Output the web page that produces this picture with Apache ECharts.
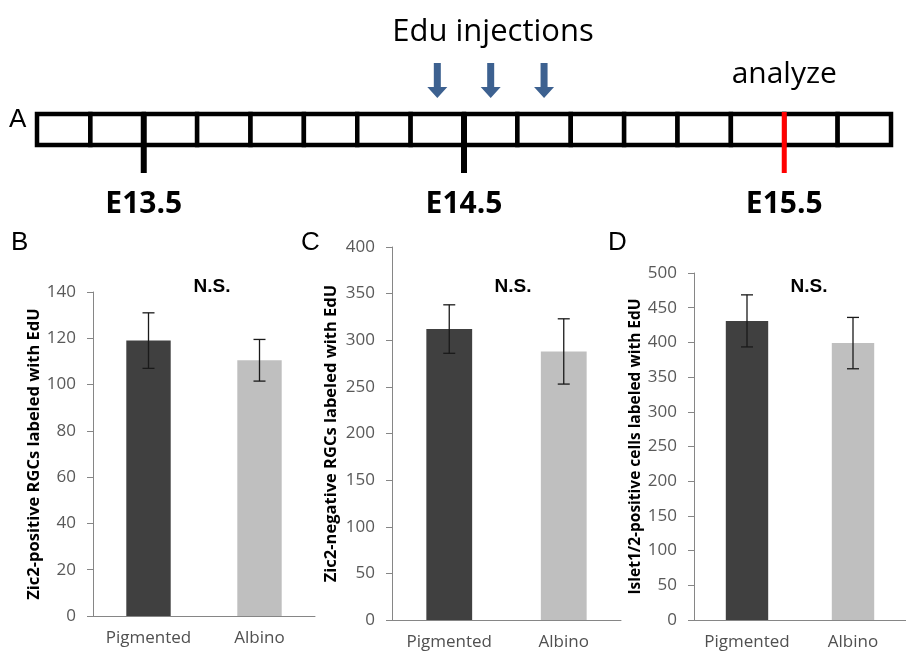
<!DOCTYPE html>
<html><head><meta charset="utf-8">
<script src="https://cdn.jsdelivr.net/npm/echarts@6/dist/echarts.min.js"></script>
<style>html,body{margin:0;padding:0;background:#fff}#c{width:906px;height:654px}</style>
</head><body><div id="c"></div>
<script>
// ---- data ----
const groups = ['Pigmented', 'Albino'];
const zic2PosMean = [119, 110.5];
const zic2PosErr = [12, 9];
const zic2NegMean = [312, 288];
const zic2NegErr = [26, 35];
const isletMean = [431, 399];
const isletErr = [37.5, 37];
const barColors = ['#404040', '#BFBFBF'];

const timelineCells = [0, 1, 2, 3, 4, 5, 6, 7, 8, 9, 10, 11, 12, 13, 14, 15];
const stageLabels = ['E13.5', 'E14.5', 'E15.5'];
const stagePositions = [2, 8, 14];
const injectionPositions = [7.5, 8.5, 9.5];
const analyzePosition = 14;

const yTitles = ['Zic2-positive RGCs labeled with EdU', 'Zic2-negative RGCs labeled with EdU', 'Islet1/2-positive cells labeled with EdU'];
const yMax = [140, 400, 500];
const yInterval = [20, 50, 50];

// ---- styles ----
const FONT = "'Open Sans', sans-serif";
const AXIS = '#868686';
const LABEL = '#595959';

const chart = echarts.init(document.getElementById('c'), null, {renderer: 'canvas'});

const gridsPx = [
  {left: 37, top: 114, width: 854, height: 31},
  {left: 93, top: 292, width: 222, height: 324},
  {left: 392, top: 247, width: 229, height: 373},
  {left: 694, top: 273, width: 222, height: 347}
];
const nameGaps = [48, 52, 50];
const titleSizes = [16.5, 16.5, 15.5];

const xAxes = [{gridIndex: 0, type: 'value', min: 0, max: timelineCells.length, show: false}];
const yAxes = [{gridIndex: 0, type: 'value', min: 0, max: 1, show: false}];
for (let k = 0; k < 3; k++) {
  xAxes.push({
    gridIndex: k + 1, type: 'category', data: groups,
    axisLine: {lineStyle: {color: AXIS, width: 1}},
    axisTick: {length: 6, interval: 0, lineStyle: {color: AXIS}},
    axisLabel: {fontFamily: FONT, fontSize: 17, color: '#505050', margin: 14, interval: 0, hideOverlap: false}
  });
  yAxes.push({
    gridIndex: k + 1, type: 'value', min: 0, max: yMax[k], interval: yInterval[k],
    axisLine: {show: true, lineStyle: {color: AXIS, width: 1}},
    axisTick: {show: true, length: 6, lineStyle: {color: AXIS}},
    splitLine: {show: false},
    axisLabel: {fontFamily: FONT, fontSize: 17, color: LABEL, margin: 17},
    name: yTitles[k], nameLocation: 'middle', nameGap: nameGaps[k],
    nameTextStyle: {fontFamily: FONT, fontSize: titleSizes[k], fontWeight: 'bold', color: '#000'}
  });
}

const means = [zic2PosMean, zic2NegMean, isletMean];
const errs = [zic2PosErr, zic2NegErr, isletErr];
const series = [];

// timeline cells
series.push({
  type: 'custom', xAxisIndex: 0, yAxisIndex: 0, silent: true,
  data: timelineCells.map(i => [i]),
  renderItem: (params, api) => {
    const i = api.value(0);
    const p0 = api.coord([i, 1]);
    const p1 = api.coord([i + 1, 0]);
    return {type: 'rect', shape: {x: p0[0], y: p0[1], width: p1[0] - p0[0], height: p1[1] - p0[1]},
      style: {fill: '#fff', stroke: '#000', lineWidth: 4.5}};
  }
});
// stage markers
series.push({
  type: 'custom', xAxisIndex: 0, yAxisIndex: 0, silent: true,
  data: stagePositions.map((p, i) => [p, i]),
  renderItem: (params, api) => {
    const pos = api.value(0);
    const top = api.coord([pos, 1]);
    const bot = api.coord([pos, 0]);
    const isAnalyze = pos === analyzePosition;
    return {type: 'group', children: [
      {type: 'line', shape: {x1: top[0], y1: top[1] - 2, x2: bot[0], y2: bot[1] + 28},
        style: {stroke: isAnalyze ? '#FF0000' : '#000', lineWidth: isAnalyze ? 5 : 6}},
      {type: 'text', x: bot[0], y: bot[1] + 59,
        style: {text: stageLabels[api.value(1)], fontFamily: FONT, fontWeight: 'bold', fontSize: 30,
          fill: '#000', align: 'center', verticalAlign: 'middle'}}
    ]};
  }
});
// analyze label
series.push({
  type: 'custom', xAxisIndex: 0, yAxisIndex: 0, silent: true,
  data: [[analyzePosition]],
  renderItem: (params, api) => {
    const top = api.coord([api.value(0), 1]);
    return {type: 'text', x: top[0], y: top[1] - 40,
      style: {text: 'analyze', fontFamily: FONT, fontSize: 30, fill: '#000', align: 'center', verticalAlign: 'middle'}};
  }
});
// injection arrows
series.push({
  type: 'custom', xAxisIndex: 0, yAxisIndex: 0, silent: true,
  data: injectionPositions.map(p => [p]),
  renderItem: (params, api) => {
    const top = api.coord([api.value(0), 1]);
    const cx = top[0], y0 = top[1] - 51, yb = top[1] - 27, yt = top[1] - 16;
    return {type: 'polygon', shape: {points: [[cx - 3.5, y0], [cx + 3.5, y0], [cx + 3.5, yb], [cx + 10, yb], [cx, yt], [cx - 10, yb], [cx - 3.5, yb]]},
      style: {fill: '#3D6190'}};
  }
});

for (let k = 0; k < 3; k++) {
  series.push({
    type: 'bar', xAxisIndex: k + 1, yAxisIndex: k + 1, barWidth: '40%', silent: true,
    data: means[k].map((v, i) => ({value: v, itemStyle: {color: barColors[i]}}))
  });
  series.push({
    type: 'custom', xAxisIndex: k + 1, yAxisIndex: k + 1, silent: true, z: 5,
    data: means[k].map((v, i) => [i, v - errs[k][i], v + errs[k][i]]),
    renderItem: (params, api) => {
      const hi = api.coord([api.value(0), api.value(2)]);
      const lo = api.coord([api.value(0), api.value(1)]);
      const st = {stroke: '#1a1a1a', lineWidth: 1.3};
      return {type: 'group', children: [
        {type: 'line', shape: {x1: hi[0], y1: hi[1], x2: lo[0], y2: lo[1]}, style: st},
        {type: 'line', shape: {x1: hi[0] - 6, y1: hi[1], x2: hi[0] + 6, y2: hi[1]}, style: st},
        {type: 'line', shape: {x1: lo[0] - 6, y1: lo[1], x2: lo[0] + 6, y2: lo[1]}, style: st}
      ]};
    }
  });
}

const txt = (text, x, y, size, weight, align) => ({type: 'text', x: x, y: y,
  style: {text: text, fontFamily: "'Liberation Sans', Arial, sans-serif", fontSize: size, fontWeight: weight || 'normal',
    fill: '#000', align: align || 'left', verticalAlign: 'middle'}});

chart.setOption({
  animation: false,
  grid: gridsPx,
  xAxis: xAxes,
  yAxis: yAxes,
  series: series,
  graphic: [
    txt('A', 9, 120, 26),
    txt('B', 11, 243, 26),
    txt('C', 301, 243, 26),
    txt('D', 608, 243, 26),
    txt('N.S.', 212, 287, 19, 'bold', 'center'),
    txt('N.S.', 513, 287, 19, 'bold', 'center'),
    txt('N.S.', 809, 287, 19, 'bold', 'center'),
    {type: 'text', x: 493, y: 32, style: {text: 'Edu injections', fontFamily: FONT, fontSize: 31, fill: '#000', align: 'center', verticalAlign: 'middle'}}
  ]
});
</script>
</body></html>
